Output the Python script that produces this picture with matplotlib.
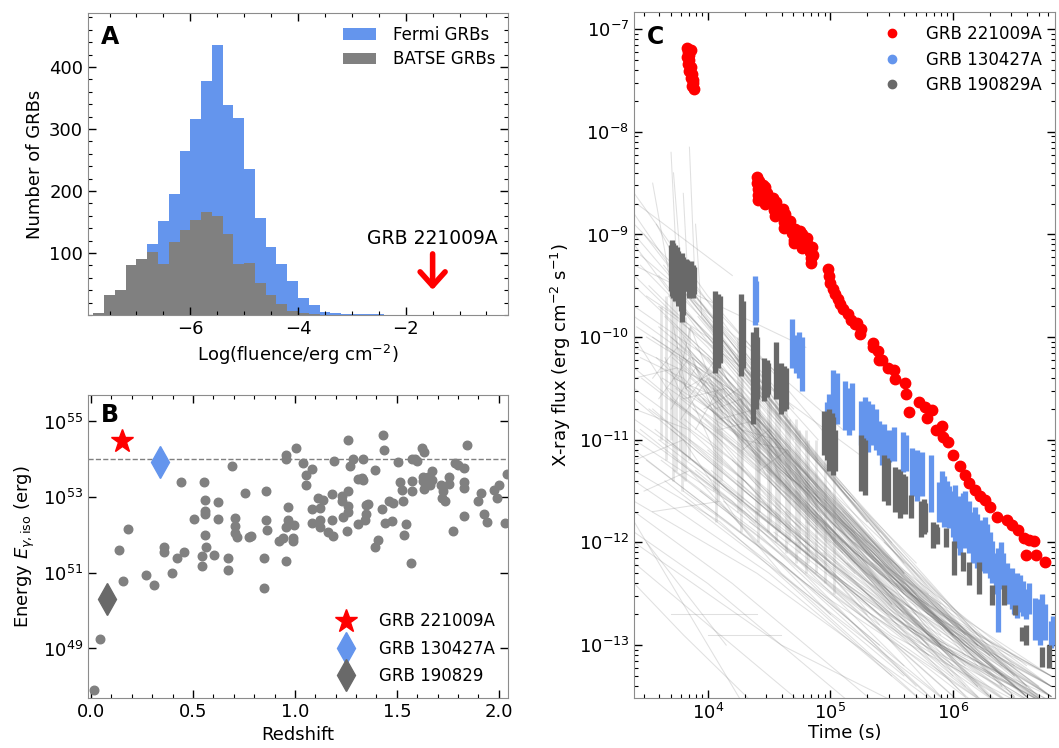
import numpy as np
import matplotlib
matplotlib.use("Agg")
import matplotlib.pyplot as plt
from matplotlib.ticker import MultipleLocator, NullLocator, LogLocator

plt.rcParams.update({
    'font.family': 'DejaVu Sans',
    'font.size': 13,
    'xtick.direction': 'in',
    'ytick.direction': 'in',
    'xtick.top': True,
    'ytick.right': True,
})

# ---------------- panel A: fluence histograms ----------------
bin_left = np.round(np.arange(-7.8, -2.39, 0.2), 2)
fermi_counts = [2, 8, 20, 40, 70, 114, 152, 195, 265, 316, 378, 435, 339, 318,
                235, 157, 109, 83, 55, 28, 16, 5, 3, 2, 1, 1, 1, 0]
batse_counts = [4, 32, 40, 81, 90, 101, 83, 117, 137, 153, 166, 160, 130, 82,
                84, 51, 32, 18, 7, 3, 1, 0, 0, 0, 0, 0, 0, 0]
grb_fluence = -1.5

# ---------------- panel B: redshift vs energy ----------------
z_bg = [0.015, 0.046, 0.139, 0.158, 0.181, 0.271, 0.310, 0.359, 0.359, 0.399,
        0.423, 0.441, 0.454, 0.506, 0.546, 0.546, 0.556, 0.559, 0.559, 0.559,
        0.559, 0.562, 0.601, 0.624, 0.624, 0.672, 0.672, 0.693, 0.706, 0.706,
        0.706, 0.714, 0.755, 0.776, 0.786, 0.847, 0.847, 0.860, 0.860, 0.864,
        0.922, 0.941, 0.956, 0.956, 0.956, 0.956, 0.967, 0.967, 0.992, 0.992,
        0.994, 1.006, 1.041, 1.052, 1.052, 1.082, 1.082, 1.082, 1.114, 1.123,
        1.123, 1.123, 1.139, 1.160, 1.180, 1.183, 1.188, 1.193, 1.229, 1.229,
        1.234, 1.253, 1.261, 1.261, 1.261, 1.261, 1.271, 1.284, 1.310, 1.310,
        1.327, 1.335, 1.335, 1.343, 1.348, 1.348, 1.356, 1.392, 1.394, 1.405,
        1.425, 1.433, 1.435, 1.441, 1.462, 1.477, 1.482, 1.505, 1.516, 1.523,
        1.528, 1.536, 1.544, 1.570, 1.572, 1.575, 1.575, 1.588, 1.600, 1.624,
        1.634, 1.626, 1.629, 1.634, 1.645, 1.654, 1.662, 1.670, 1.670, 1.714,
        1.719, 1.727, 1.735, 1.757, 1.757, 1.776, 1.784, 1.801, 1.828, 1.828,
        1.830, 1.828, 1.846, 1.899, 1.915, 1.928, 1.944, 1.977, 1.989, 2.000,
        2.038, 2.030]
logE_bg = [47.90, 49.26, 51.60, 50.79, 52.17, 50.94, 50.68, 51.68, 51.55, 50.99,
           51.38, 53.39, 51.55, 52.43, 51.45, 51.19, 53.39, 52.93, 52.64, 52.56,
           52.01, 51.67, 51.47, 52.88, 52.41, 51.38, 51.07, 53.83, 52.44, 52.25,
           52.06, 51.95, 53.11, 51.95, 51.97, 51.40, 50.60, 53.15, 52.40, 52.12,
           51.84, 51.91, 54.12, 54.01, 51.30, 52.20, 52.74, 52.40, 51.91, 51.83,
           52.27, 54.30, 53.90, 53.58, 53.33, 53.75, 52.69, 52.32, 52.97, 52.72,
           52.39, 52.22, 52.93, 52.07, 53.08, 52.40, 51.97, 53.95, 53.02, 52.89,
           52.47, 52.11, 54.51, 53.17, 52.76, 52.62, 53.82, 54.01, 53.47, 52.30,
           53.50, 54.01, 53.45, 52.40, 52.80, 52.55, 52.82, 51.69, 53.72, 51.88,
           52.69, 54.64, 54.25, 52.32, 52.91, 52.37, 52.85, 53.94, 53.39, 53.19,
           52.89, 52.01, 52.29, 51.25, 54.01, 53.42, 53.15, 54.00, 53.96, 54.30,
           54.20, 53.54, 53.42, 53.21, 53.37, 53.54, 53.33, 53.68, 53.46, 53.33,
           52.97, 53.15, 52.89, 53.54, 53.35, 52.11, 53.90, 53.86, 53.78, 53.40,
           53.24, 52.50, 54.39, 52.90, 53.11, 52.55, 52.35, 53.19, 52.97, 53.33,
           53.61, 52.31]
special_names = ["GRB 221009A", "GRB 130427A", "GRB 190829"]
special_z = [0.151, 0.340, 0.078]
special_logE = [54.49, 53.92, 50.30]

# ---------------- panel C: X-ray light curves (log10 t, log10 flux) ----------------
red_logt = [3.83, 3.84, 3.83, 3.85, 3.84, 3.86, 3.85, 3.87, 3.86, 3.88, 3.87, 3.89, 3.88, 3.85, 3.86,
            4.40, 4.40, 4.41, 4.41, 4.42, 4.43, 4.41,
            4.45, 4.46, 4.46, 4.47, 4.48, 4.47,
            4.53, 4.54, 4.54, 4.55, 4.56, 4.56,
            4.61, 4.61, 4.62, 4.62, 4.63, 4.64,
            4.67, 4.68, 4.69, 4.70, 4.71, 4.70,
            4.75, 4.76, 4.76, 4.77, 4.77, 4.78,
            4.81, 4.82, 4.83, 4.84, 4.84, 4.85, 4.86,
            4.98, 4.99, 5.00, 5.02, 5.04, 5.06, 5.08, 5.10,
            5.14, 5.17, 5.20, 5.22, 5.24, 5.25,
            5.345, 5.35, 5.39, 5.40, 5.42, 5.47, 5.52, 5.53, 5.61, 5.62, 5.64, 5.72,
            5.77, 5.79, 5.83, 5.86, 5.91, 5.92, 5.96, 6.00, 6.06, 6.10, 6.13, 6.18,
            6.22, 6.26, 6.30, 6.36, 6.44, 6.48, 6.53, 6.58, 6.62, 6.66, 6.60, 6.68, 6.75]
red_logf = [-7.18, -7.22, -7.27, -7.30, -7.34, -7.37, -7.41, -7.44, -7.48, -7.52, -7.55, -7.58, -7.50, -7.25, -7.20,
            -8.44, -8.50, -8.56, -8.62, -8.48, -8.58, -8.66,
            -8.52, -8.58, -8.64, -8.70, -8.60, -8.54,
            -8.64, -8.70, -8.76, -8.82, -8.68, -8.78,
            -8.75, -8.82, -8.88, -8.94, -8.80, -8.90,
            -8.87, -8.93, -8.99, -9.05, -8.95, -9.08,
            -8.97, -9.03, -9.09, -9.13, -9.00, -9.06,
            -9.03, -9.10, -9.17, -9.23, -9.28, -9.12, -9.20,
            -9.34, -9.40, -9.47, -9.53, -9.58, -9.63, -9.68, -9.73,
            -9.77, -9.83, -9.87, -9.86, -9.97, -9.92,
            -10.06, -10.10, -10.14, -10.22, -10.22, -10.30, -10.32, -10.41, -10.45, -10.55, -10.73, -10.63,
            -10.68, -10.79, -10.71, -10.90, -10.87, -10.97, -11.02, -11.15, -11.26, -11.34, -11.42, -11.49,
            -11.55, -11.59, -11.65, -11.75, -11.78, -11.83, -11.88, -11.96, -11.98, -11.99, -12.12, -12.12, -12.19]

# GRB 130427A: (log t, log f top, log f bottom) of each binned segment
blue_logt = [4.385, 4.395, 4.69, 4.72, 4.74, 4.77, 4.97, 4.99, 5.02, 5.05, 5.12, 5.15, 5.18,
             5.25, 5.28, 5.31, 5.34, 5.37, 5.40, 5.42, 5.44, 5.46, 5.48, 5.52, 5.59, 5.62, 5.67, 5.69, 5.71,
             5.75, 5.82, 5.89, 5.91, 5.93, 5.95, 5.97, 6.00, 6.02, 6.04, 6.06, 6.08, 6.10, 6.13, 6.16, 6.18,
             6.20, 6.22, 6.24, 6.26, 6.28, 6.30, 6.32, 6.35, 6.37, 6.39, 6.41, 6.44, 6.48, 6.50, 6.52, 6.55,
             6.57, 6.60, 6.62, 6.67, 6.69, 6.71, 6.73, 6.75, 6.80, 6.82, 6.84]
blue_top = [-9.40, -9.45, -9.82, -9.98, -9.95, -10.00, -10.63, -10.55, -10.32, -10.35, -10.43, -10.50, -10.45,
            -10.62, -10.58, -10.62, -10.65, -10.70, -10.82, -10.88, -10.85, -10.95, -10.90, -10.88, -10.92, -10.95,
            -11.08, -11.15, -11.10, -11.12, -11.15, -11.41, -11.30, -11.35, -11.40, -11.45, -11.50, -11.44, -11.60,
            -11.55, -11.52, -11.50, -11.60, -11.70, -11.65, -11.72, -11.80, -11.78, -11.75, -11.82, -11.90, -11.99,
            -12.10, -12.05, -12.00, -12.10, -12.20, -12.25, -12.35, -12.30, -12.32, -12.38, -12.45, -12.40, -12.54,
            -12.60, -12.55, -12.50, -12.60, -12.77, -12.72, -12.80]
blue_bot = [-9.88, -9.85, -10.30, -10.35, -10.40, -10.52, -10.92, -10.90, -10.80, -10.85, -10.90, -10.95, -10.90,
            -11.05, -11.10, -11.12, -11.05, -11.10, -11.15, -11.25, -11.20, -11.18, -11.22, -11.21, -11.31, -11.30,
            -11.55, -11.50, -11.60, -11.55, -11.70, -11.80, -11.75, -11.85, -11.80, -11.86, -11.95, -12.00, -12.05,
            -12.12, -12.00, -12.05, -12.10, -12.20, -12.15, -12.25, -12.20, -12.28, -12.30, -12.25, -12.35, -12.40,
            -12.50, -12.87, -12.45, -12.44, -12.60, -12.65, -12.70, -12.74, -12.68, -12.72, -12.75, -12.70, -12.95,
            -12.90, -13.00, -12.85, -12.95, -13.03, -12.98, -13.00]

# GRB 190829A
dgray_logt = [3.70, 3.71, 3.72, 3.73, 3.74, 3.75, 3.76, 3.78, 3.79, 3.80, 3.82, 3.83, 3.85, 3.86, 3.88, 3.89,
              4.06, 4.08, 4.10, 4.27, 4.29, 4.37, 4.39, 4.40, 4.46, 4.48, 4.49, 4.56, 4.60, 4.62, 4.64,
              4.95, 4.97, 4.99, 5.01, 5.02, 5.04, 5.25, 5.27, 5.28, 5.44, 5.46, 5.47,
              5.53, 5.55, 5.57, 5.59, 5.61, 5.66, 5.74, 5.76, 5.77, 5.84, 5.86, 5.87, 5.94, 6.01, 6.08, 6.13, 6.21,
              6.32, 6.42, 6.51, 6.565, 6.60, 6.73, 6.78]
dgray_top = [-9.10, -9.05, -9.08, -9.10, -9.15, -9.12, -9.16, -9.20, -9.18, -9.22, -9.24, -9.25, -9.28, -9.26, -9.30, -9.32,
             -9.55, -9.58, -9.60, -9.58, -9.65, -9.95, -9.90, -10.00, -10.20, -10.22, -10.25, -10.05, -10.25, -10.28, -10.30,
             -10.72, -10.75, -10.70, -10.74, -10.78, -10.90, -10.95, -10.98, -11.00, -11.15, -11.18, -11.20,
             -11.27, -11.28, -11.30, -11.33, -11.35, -11.54, -11.60, -11.58, -11.62, -11.80, -11.82, -11.85, -11.86,
             -11.99, -12.09, -12.19, -12.19, -12.41, -12.41, -12.61, -12.82, -12.80, -13.02, -13.00]
dgray_bot = [-9.55, -9.60, -9.62, -9.65, -9.58, -9.62, -9.70, -9.75, -9.85, -9.78, -9.55, -9.55, -9.62, -9.60, -9.62, -9.58,
             -10.35, -10.30, -10.25, -10.38, -10.30, -10.85, -10.70, -10.60, -10.62, -10.58, -10.55, -10.60, -10.75, -10.72, -10.70,
             -11.15, -11.20, -11.30, -11.25, -11.34, -11.30, -11.50, -11.45, -11.54, -11.60, -11.55, -11.64,
             -11.70, -11.65, -11.76, -11.70, -11.72, -11.76, -11.95, -11.92, -11.90, -12.05, -12.00, -12.02, -12.04,
             -12.32, -12.28, -12.41, -12.50, -12.61, -12.61, -12.71, -12.96, -13.00, -13.21, -13.22]

# background Swift sample: each row = knots (log t0, log f0, log t1, log f1, ...)
bg_curves = [
    [3.40, -8.6, 4.0, -9.6, 5.0, -11.0], [3.40, -9.0, 3.9, -9.7, 4.9, -11.2],
    [3.45, -9.3, 4.1, -10.1, 5.3, -11.8], [3.40, -9.5, 4.2, -10.4, 5.5, -12.2],
    [3.70, -8.2, 3.75, -9.4, 4.6, -10.6], [3.85, -8.15, 3.9, -9.6, 4.8, -11.0],
    [3.55, -8.5, 3.7, -9.5, 4.5, -10.5], [3.40, -9.7, 4.0, -10.2, 5.6, -12.3],
    [3.42, -9.9, 4.3, -10.6, 5.8, -12.6], [3.40, -10.1, 4.1, -10.5, 5.9, -12.9],
    [3.50, -9.6, 4.0, -10.0, 5.2, -11.6], [3.60, -9.4, 4.2, -10.3, 5.4, -11.9],
    [3.65, -9.8, 4.4, -10.7, 6.0, -12.9], [3.70, -10.0, 4.5, -10.9, 6.1, -13.1],
    [3.75, -9.9, 4.3, -10.5, 5.7, -12.2], [3.80, -10.2, 4.6, -11.0, 6.2, -13.2],
    [3.85, -10.3, 4.4, -10.9, 5.9, -12.8], [3.90, -10.1, 4.7, -11.2, 6.3, -13.3],
    [3.95, -10.4, 4.5, -11.0, 6.0, -12.9], [4.00, -10.2, 4.8, -11.3, 6.4, -13.3],
    [3.62, -10.3, 4.2, -10.8, 5.5, -12.6], [3.68, -10.5, 4.3, -11.0, 5.8, -13.0],
    [3.72, -10.4, 4.1, -10.6, 5.6, -12.4], [3.78, -10.6, 4.4, -11.2, 6.1, -13.4],
    [3.82, -10.5, 4.6, -11.3, 6.2, -13.0], [3.88, -10.7, 4.5, -11.4, 6.0, -13.3],
    [3.92, -10.6, 4.3, -11.0, 5.7, -12.7], [3.98, -10.8, 4.7, -11.6, 6.3, -13.5],
    [4.05, -10.5, 4.9, -11.6, 6.4, -13.4], [4.10, -10.7, 4.8, -11.5, 6.5, -13.5],
    [4.15, -10.4, 5.0, -11.5, 6.5, -13.2], [4.20, -10.8, 5.1, -11.9, 6.6, -13.5],
    [4.25, -10.6, 5.0, -11.7, 6.3, -13.1], [4.30, -10.9, 5.2, -12.0, 6.6, -13.4],
    [4.35, -10.7, 5.1, -11.8, 6.7, -13.5], [4.40, -11.0, 5.3, -12.1, 6.8, -13.4],
    [4.45, -10.9, 5.4, -12.2, 6.8, -13.3], [4.50, -11.1, 5.2, -11.9, 6.6, -13.2],
    [4.55, -11.0, 5.5, -12.3, 6.8, -13.5], [4.60, -11.3, 5.4, -12.1, 6.7, -13.5],
    [3.40, -10.5, 4.2, -11.2, 5.8, -13.1], [3.40, -10.8, 4.0, -11.3, 5.6, -13.2],
    [3.40, -11.0, 4.3, -11.7, 6.0, -13.5], [3.40, -11.3, 4.1, -11.8, 5.5, -13.3],
    [3.40, -11.6, 4.4, -12.3, 5.9, -13.6], [3.40, -11.9, 4.0, -12.4, 5.2, -13.6],
    [3.40, -12.2, 3.9, -12.7, 4.8, -13.6], [3.40, -12.4, 3.8, -12.9, 4.4, -13.6],
    [3.45, -10.9, 4.5, -11.9, 6.1, -13.6], [3.50, -11.2, 4.6, -12.2, 6.0, -13.6],
    [3.55, -10.7, 4.4, -11.6, 6.2, -13.6], [3.60, -11.0, 4.7, -12.0, 6.4, -13.6],
    [3.65, -11.4, 4.5, -12.2, 5.8, -13.6], [3.70, -10.9, 4.8, -12.0, 6.5, -13.6],
    [3.75, -11.2, 4.9, -12.3, 6.3, -13.6], [3.80, -11.5, 4.6, -12.2, 5.9, -13.6],
    [3.85, -11.0, 5.0, -12.2, 6.6, -13.6], [3.90, -11.3, 5.1, -12.5, 6.4, -13.6],
    [4.00, -11.1, 5.2, -12.3, 6.8, -13.6], [4.10, -11.4, 5.3, -12.5, 6.6, -13.6],
    [4.20, -11.2, 5.5, -12.6, 6.8, -13.6], [4.30, -11.5, 5.6, -12.8, 6.7, -13.6],
    [4.40, -11.7, 5.4, -12.7, 6.5, -13.6], [4.50, -11.4, 5.7, -12.8, 6.8, -13.6],
    [4.70, -11.6, 5.8, -12.9, 6.8, -13.55], [4.80, -11.8, 5.6, -12.6, 6.8, -13.4],
    [4.90, -11.5, 5.9, -12.7, 6.8, -13.3], [5.00, -11.9, 5.8, -12.6, 6.8, -13.5],
    [5.10, -11.7, 6.0, -12.8, 6.8, -13.4], [5.20, -12.0, 6.1, -13.0, 6.8, -13.6],
    [3.55, -10.0, 4.3, -10.6, 5.6, -12.5], [3.58, -10.2, 4.2, -10.9, 5.9, -13.0],
    [3.60, -9.9, 4.1, -10.4, 5.3, -12.0], [3.63, -10.4, 4.4, -11.0, 6.0, -13.1],
    [3.66, -10.1, 4.0, -10.5, 5.5, -12.4], [3.69, -10.6, 4.5, -11.3, 6.2, -13.4],
    [3.71, -10.2, 4.3, -10.8, 5.8, -12.7], [3.74, -10.5, 4.6, -11.4, 6.3, -13.5],
    [3.76, -10.0, 4.2, -10.6, 5.6, -12.3], [3.79, -10.3, 4.4, -11.0, 6.0, -12.9],
    [3.81, -10.8, 4.5, -11.5, 6.1, -13.5], [3.83, -10.1, 4.3, -10.7, 5.7, -12.5],
    [3.86, -10.4, 4.7, -11.3, 6.4, -13.4], [3.88, -10.2, 4.6, -11.1, 6.2, -13.0],
    [3.91, -10.5, 4.4, -11.1, 5.9, -13.0], [3.93, -10.3, 4.8, -11.4, 6.5, -13.5],
    [3.96, -10.6, 4.5, -11.3, 6.0, -13.2], [3.99, -10.4, 4.9, -11.6, 6.6, -13.5],
    [4.02, -10.7, 4.6, -11.4, 6.2, -13.4], [4.04, -10.3, 4.7, -11.2, 6.3, -13.1],
    [4.08, -10.9, 4.8, -11.7, 6.4, -13.6], [4.12, -10.5, 4.9, -11.5, 6.5, -13.3],
    [4.16, -10.8, 5.0, -11.8, 6.6, -13.5], [4.18, -10.6, 4.7, -11.3, 6.1, -12.9],
    [4.22, -10.9, 5.1, -12.0, 6.7, -13.6], [4.26, -10.7, 4.9, -11.6, 6.4, -13.3],
    [4.28, -11.0, 5.2, -12.1, 6.8, -13.6], [4.32, -10.8, 5.0, -11.8, 6.5, -13.4],
    [4.36, -11.1, 5.3, -12.3, 6.8, -13.5], [4.38, -10.9, 5.1, -12.0, 6.6, -13.5],
    [4.42, -11.2, 5.2, -12.1, 6.7, -13.4], [4.46, -11.0, 5.4, -12.3, 6.8, -13.4],
    [4.48, -11.3, 5.3, -12.2, 6.6, -13.5], [4.52, -11.2, 5.5, -12.4, 6.8, -13.3],
    [4.56, -11.4, 5.4, -12.4, 6.7, -13.6], [4.58, -11.1, 5.6, -12.5, 6.8, -13.5],
    [4.62, -11.5, 5.5, -12.5, 6.8, -13.6], [4.66, -11.3, 5.7, -12.6, 6.8, -13.4],
    [4.72, -11.5, 5.6, -12.6, 6.8, -13.5], [4.76, -11.4, 5.8, -12.7, 6.8, -13.3],
    [3.40, -10.3, 4.5, -11.4, 6.2, -13.5], [3.40, -10.6, 4.6, -11.8, 6.4, -13.6],
    [3.40, -10.9, 4.2, -11.6, 5.7, -13.4], [3.40, -11.1, 4.8, -12.4, 6.3, -13.6],
    [3.40, -11.4, 4.5, -12.3, 5.8, -13.6], [3.40, -11.7, 4.2, -12.4, 5.4, -13.6],
    [3.40, -12.0, 4.6, -13.0, 5.6, -13.6], [3.46, -10.4, 4.0, -10.9, 5.4, -12.8],
    [3.52, -10.7, 4.3, -11.4, 5.9, -13.5], [3.57, -10.9, 4.6, -11.9, 6.3, -13.6],
    [3.62, -11.2, 4.4, -11.9, 5.9, -13.6], [3.67, -11.0, 4.9, -12.2, 6.5, -13.6],
    [3.72, -11.3, 4.7, -12.2, 6.2, -13.6], [3.77, -11.1, 5.0, -12.3, 6.6, -13.6],
    [3.82, -11.6, 4.8, -12.5, 6.0, -13.6], [3.87, -11.2, 5.2, -12.5, 6.7, -13.6],
    [3.94, -11.5, 5.0, -12.5, 6.3, -13.6], [4.03, -11.3, 5.4, -12.7, 6.8, -13.6],
    [4.13, -11.6, 5.2, -12.6, 6.5, -13.6], [4.24, -11.4, 5.6, -12.8, 6.8, -13.6],
    [4.34, -11.8, 5.5, -12.9, 6.6, -13.6], [4.44, -11.6, 5.8, -12.9, 6.8, -13.55],
    [4.54, -11.9, 5.6, -12.9, 6.7, -13.6], [4.64, -11.7, 5.9, -13.0, 6.8, -13.5],
    [4.74, -12.0, 5.7, -12.9, 6.8, -13.6], [4.84, -11.7, 6.0, -12.9, 6.8, -13.4],
    [4.94, -12.1, 5.9, -13.0, 6.8, -13.6], [5.04, -11.8, 6.1, -13.0, 6.8, -13.5],
    [5.14, -12.2, 6.0, -13.1, 6.8, -13.6], [5.24, -11.9, 6.2, -13.0, 6.8, -13.4],
    [5.34, -12.2, 6.3, -13.2, 6.8, -13.6], [5.44, -12.0, 6.2, -12.9, 6.8, -13.3],
    [5.54, -12.4, 6.4, -13.2, 6.8, -13.5],
    [3.40, -8.8, 3.8, -9.5, 4.6, -10.8], [3.40, -9.1, 3.9, -9.9, 5.0, -11.5],
    [3.40, -9.4, 4.0, -10.1, 5.2, -11.9], [3.40, -9.8, 4.1, -10.4, 5.4, -12.1],
    [3.48, -9.0, 4.0, -9.8, 4.9, -11.0], [3.52, -9.5, 4.2, -10.3, 5.6, -12.3],
    [3.58, -8.9, 3.9, -9.6, 4.7, -10.7], [3.64, -9.3, 4.3, -10.3, 5.5, -12.0],
    [3.72, -8.4, 3.78, -9.3, 4.4, -10.3], [3.80, -8.6, 3.84, -9.5, 4.6, -10.7],
    [3.90, -8.9, 3.95, -9.8, 4.7, -11.0], [3.68, -9.6, 4.2, -10.2, 5.3, -11.8],
    [3.74, -9.5, 4.4, -10.5, 5.8, -12.5], [3.78, -9.7, 4.3, -10.4, 5.6, -12.2],
    [3.84, -9.6, 4.5, -10.6, 5.9, -12.6], [3.92, -9.8, 4.6, -10.8, 6.1, -12.9],
    [4.02, -9.9, 4.7, -10.9, 6.2, -13.0], [4.12, -10.0, 4.9, -11.2, 6.4, -13.2],
    [4.22, -10.2, 5.0, -11.3, 6.5, -13.3], [4.32, -10.3, 5.1, -11.5, 6.6, -13.4],
    [3.40, -8.9, 4.6, -10.4], [3.45, -9.2, 5.1, -10.9], [3.60, -9.7, 5.3, -11.2],
    [3.40, -11.8, 4.3, -13.6], [3.50, -12.0, 4.15, -13.0], [3.70, -12.7, 4.4, -12.7],
    [4.00, -12.9, 4.6, -12.9], [3.40, -9.3, 4.8, -10.1], [3.42, -8.7, 4.2, -9.4],
    [3.45, -10.2, 3.80, -10.4, 4.20, -10.9, 4.9, -11.8],
    [3.50, -10.0, 3.90, -10.3, 4.30, -10.8, 5.0, -11.9],
    [3.55, -10.4, 3.75, -10.1, 4.10, -10.7, 4.8, -11.7],
    [3.60, -10.6, 3.85, -10.2, 4.20, -10.8, 5.1, -12.0],
    [3.65, -10.2, 3.80, -10.6, 4.15, -10.5, 4.7, -11.4],
    [3.70, -10.7, 3.90, -10.3, 4.25, -11.0, 5.2, -12.2],
    [3.72, -9.9, 3.82, -10.5, 4.10, -10.3, 4.6, -11.2],
    [3.76, -10.4, 3.86, -9.9, 4.08, -10.6, 4.5, -11.1],
    [3.78, -10.8, 4.00, -10.4, 4.30, -11.1, 5.0, -12.0],
    [3.80, -10.0, 4.06, -10.7, 4.28, -10.6, 4.9, -11.6],
    [3.84, -10.6, 4.07, -10.2, 4.40, -11.0, 5.1, -12.1],
    [3.87, -10.2, 4.10, -10.9, 4.42, -10.8, 5.3, -12.2],
    [3.90, -10.9, 4.09, -10.5, 4.50, -11.4, 5.2, -12.3],
    [3.93, -10.4, 4.27, -10.9, 4.56, -11.0, 5.4, -12.4],
    [3.97, -10.7, 4.26, -10.5, 4.60, -11.4, 5.5, -12.6],
    [4.06, -10.3, 4.29, -11.0, 4.65, -11.1, 5.3, -12.1],
    [4.09, -10.8, 4.40, -10.7, 4.72, -11.4, 5.6, -12.7],
    [4.27, -10.6, 4.41, -11.1, 4.80, -11.5, 5.7, -12.8],
    [4.28, -11.1, 4.50, -10.9, 4.88, -11.7, 5.8, -12.9],
    [4.40, -10.8, 4.57, -11.3, 4.96, -11.6, 5.9, -13.0],
    [4.42, -11.3, 4.65, -11.1, 5.03, -12.0, 6.0, -13.1],
    [4.50, -11.0, 4.73, -11.5, 5.10, -11.9, 6.1, -13.2],
    [3.40, -10.0, 3.72, -10.6, 4.10, -11.0, 5.0, -12.2],
    [3.40, -10.4, 3.75, -10.3, 4.05, -11.1, 4.8, -12.0],
    [3.40, -10.7, 3.84, -10.9, 4.30, -11.4, 5.3, -12.7],
    [3.40, -11.2, 3.80, -11.0, 4.25, -11.8, 5.0, -12.7],
    [3.48, -11.5, 3.85, -11.3, 4.40, -12.0, 5.4, -13.0],
    [3.55, -11.7, 4.10, -11.6, 4.60, -12.3, 5.6, -13.3],
]
# orbit-by-orbit scatter of the sample (log t, log f top, log f bottom)
orbit_logt = [3.62, 3.66, 3.70, 3.72, 3.74, 3.77, 3.79, 3.81, 3.85, 4.05, 4.07, 4.08, 4.11,
              4.25, 4.27, 4.28, 4.39, 4.41, 4.42, 4.49, 4.51, 4.56, 4.58, 4.64, 4.66,
              4.72, 4.74, 4.80, 4.82, 4.88, 4.96, 5.03]
orbit_top = [-9.7, -9.6, -9.4, -9.6, -9.7, -9.5, -9.8, -9.8, -9.9, -9.8, -10.0, -10.1, -10.3,
             -10.0, -10.2, -10.4, -10.2, -10.4, -10.5, -10.4, -10.6, -10.5, -10.7, -10.7, -10.8,
             -10.8, -10.9, -10.9, -11.0, -11.0, -11.2, -11.3]
orbit_bot = [-11.0, -11.2, -11.0, -11.4, -11.3, -11.1, -11.5, -11.4, -11.2, -11.5, -11.8, -11.6, -11.4,
             -11.7, -11.9, -11.6, -11.8, -12.0, -11.7, -11.9, -11.8, -12.0, -11.9, -12.1, -12.0,
             -12.2, -12.1, -12.3, -12.2, -12.3, -12.4, -12.5]

fermi_blue = 'cornflowerblue'
batse_gray = 'gray'

fig = plt.figure(figsize=(10.59, 7.48), dpi=100)
axA = fig.add_axes([0.0831, 0.5789, 0.3966, 0.4037])
axB = fig.add_axes([0.0831, 0.0668, 0.3966, 0.4051])
axC = fig.add_axes([0.5987, 0.0668, 0.3975, 0.9172])

for ax in (axA, axB, axC):
    for sp in ax.spines.values():
        sp.set_edgecolor('0.55')
    ax.tick_params(which='major', length=6, width=1)
    ax.tick_params(which='minor', length=3, width=0.8)

# ---- A ----
axA.bar(bin_left, fermi_counts, width=0.2, align='edge', color=fermi_blue, label='Fermi GRBs')
axA.bar(bin_left, batse_counts, width=0.2, align='edge', color=batse_gray, label='BATSE GRBs')
axA.annotate('', xy=(grb_fluence, 36), xytext=(grb_fluence, 103),
             arrowprops=dict(arrowstyle='->,head_length=0.5,head_width=0.45', lw=4,
                             color='red', mutation_scale=20))
axA.text(grb_fluence, 124, 'GRB 221009A', ha='center', va='center', fontsize=13.5)
axA.set_xlim(-7.9, -0.1)
axA.set_ylim(0, 487)
axA.set_xticks([-6, -4, -2])
axA.xaxis.set_minor_locator(MultipleLocator(0.5))
axA.set_yticks([100, 200, 300, 400])
axA.yaxis.set_minor_locator(MultipleLocator(20))
axA.set_xlabel(r'Log(fluence/erg cm$^{-2}$)')
axA.set_ylabel('Number of GRBs')
axA.legend(loc='upper right', frameon=False, fontsize=12, handlelength=2.0, handletextpad=1.0,
           borderaxespad=0.35, labelspacing=0.4)
axA.text(0.03, 0.92, 'A', transform=axA.transAxes, fontsize=17, fontweight='bold', va='center')

# ---- B ----
axB.scatter(z_bg, 10.0 ** np.array(logE_bg), s=38, color='gray', zorder=2)
axB.axhline(1e54, color='gray', ls='--', lw=1, zorder=1)
axB.plot(special_z[0], 10 ** special_logE[0], '*', color='red', ms=17, ls='none', label=special_names[0])
axB.plot(special_z[1], 10 ** special_logE[1], 'd', color=fermi_blue, ms=16, ls='none', label=special_names[1])
axB.plot(special_z[2], 10 ** special_logE[2], 'd', color='dimgray', ms=16, ls='none', label=special_names[2])
axB.set_yscale('log')
axB.set_xlim(-0.015, 2.045)
axB.set_ylim(10 ** 47.69, 10 ** 55.7)
axB.set_yticks([1e49, 1e51, 1e53, 1e55])
axB.yaxis.set_minor_locator(NullLocator())
axB.xaxis.set_major_locator(MultipleLocator(0.5))
axB.xaxis.set_minor_locator(MultipleLocator(0.1))
axB.set_xlabel('Redshift')
axB.set_ylabel(r'Energy $E_{\gamma,\rm iso}$ (erg)')
axB.legend(loc='lower right', frameon=False, fontsize=12, handlelength=1.3, handletextpad=1.3,
           borderaxespad=0.4, labelspacing=0.55)
axB.text(0.03, 0.935, 'B', transform=axB.transAxes, fontsize=17, fontweight='bold', va='center')

# ---- C ----
for row in bg_curves:
    lt = np.array(row[0::2])
    lf = np.array(row[1::2])
    axC.plot(10.0 ** lt, 10.0 ** lf, color='0.45', alpha=0.22, lw=0.75, zorder=1)
axC.vlines(10.0 ** np.array(orbit_logt), 10.0 ** np.array(orbit_bot), 10.0 ** np.array(orbit_top),
           color='0.45', alpha=0.18, lw=2, zorder=1)
axC.vlines(10.0 ** np.array(blue_logt), 10.0 ** np.array(blue_bot), 10.0 ** np.array(blue_top),
           color=fermi_blue, lw=3.8, zorder=3)
axC.vlines(10.0 ** np.array(dgray_logt), 10.0 ** np.array(dgray_bot), 10.0 ** np.array(dgray_top),
           color='dimgray', lw=3.8, zorder=4)
axC.plot(10.0 ** np.array(red_logt), 10.0 ** np.array(red_logf), 'o', color='red', ms=7.5, zorder=5)
# legend handles
lh = [axC.plot([], [], 'o', color=c, ms=6)[0] for c in ('red', fermi_blue, 'dimgray')]
axC.set_xscale('log')
axC.set_yscale('log')
axC.set_xlim(2500, 6.8e6)
axC.set_ylim(3.05e-14, 1.47e-7)
axC.yaxis.set_major_locator(LogLocator(base=10, numticks=20))
axC.yaxis.set_minor_locator(LogLocator(base=10, subs=np.arange(2, 10), numticks=20))
axC.set_xlabel('Time (s)', labelpad=1)
axC.set_ylabel(r'X-ray flux (erg cm$^{-2}$ s$^{-1}$)')
axC.legend(lh, ['GRB 221009A', 'GRB 130427A', 'GRB 190829A'], loc='upper right', frameon=False,
           fontsize=12, handlelength=1.2, handletextpad=1.4, borderaxespad=0.4, labelspacing=0.45)
axC.text(0.03, 0.964, 'C', transform=axC.transAxes, fontsize=17, fontweight='bold', va='center')

fig.savefig('out.png', dpi=100)
